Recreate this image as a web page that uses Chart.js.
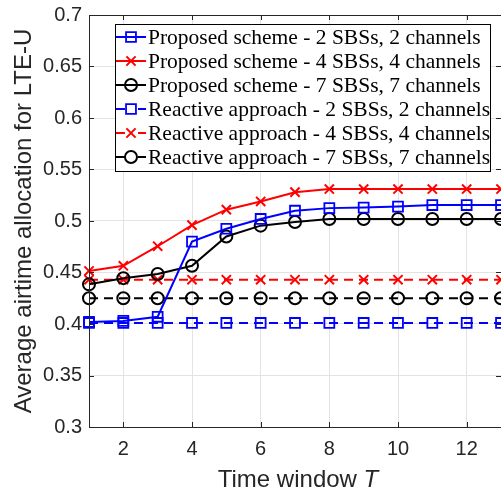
<!DOCTYPE html>
<html>
<head>
<meta charset="utf-8">
<script src="https://cdn.jsdelivr.net/npm/chart.js@4.4.0/dist/chart.umd.min.js"></script>
<style>
  html, body { margin: 0; padding: 0; background: #fff; }
</style>
</head>
<body>
<canvas id="myChart" width="501" height="492"></canvas>
<script>
// values
const timeWindow = [1, 2, 3, 4, 5, 6, 7, 8, 9, 10, 11, 12, 13];
const proposed2 = [0.402, 0.403, 0.407, 0.480, 0.4925, 0.502, 0.510, 0.5125, 0.513, 0.514, 0.5155, 0.5155, 0.5155];
const proposed4 = [0.4515, 0.4565, 0.4755, 0.496, 0.511, 0.519, 0.528, 0.531, 0.531, 0.531, 0.531, 0.531, 0.531];
const proposed7 = [0.4385, 0.4445, 0.4485, 0.4565, 0.485, 0.4955, 0.499, 0.502, 0.502, 0.502, 0.502, 0.502, 0.502];
const reactive2 = [0.401, 0.401, 0.401, 0.401, 0.401, 0.401, 0.401, 0.401, 0.401, 0.401, 0.401, 0.401, 0.401];
const reactive4 = [0.443, 0.443, 0.443, 0.443, 0.443, 0.443, 0.443, 0.443, 0.443, 0.443, 0.443, 0.443, 0.443];
const reactive7 = [0.425, 0.425, 0.425, 0.425, 0.425, 0.425, 0.425, 0.425, 0.425, 0.425, 0.425, 0.425, 0.425];
const seriesLabels = [
  'Proposed scheme - 2 SBSs, 2 channels',
  'Proposed scheme - 4 SBSs, 4 channels',
  'Proposed scheme - 7 SBSs, 7 channels',
  'Reactive approach - 2 SBSs, 2 channels',
  'Reactive approach - 4 SBSs, 4 channels',
  'Reactive approach - 7 SBSs, 7 channels'
];
const xTicks = [2, 4, 6, 8, 10, 12];
const yTicks = [0.3, 0.35, 0.4, 0.45, 0.5, 0.55, 0.6, 0.65, 0.7];

const axisColor = '#262626';
const gridColor = '#e3e3e3';
const sansFont = '"Liberation Sans", Arial, sans-serif';
const serifFont = '"Liberation Serif", "Times New Roman", serif';

function makeSet(label, values, color, marker, dashed) {
  return {
    label: label,
    data: values.map((v, i) => ({ x: timeWindow[i], y: v })),
    borderColor: color,
    borderWidth: 2,
    borderDash: dashed ? [9, 6] : [],
    pointStyle: marker,
    pointRadius: marker === 'rect' ? 7 : (marker === 'circle' ? 6 : 6.5),
    pointBorderWidth: marker === 'rect' ? 1.8 : 2,
    pointBorderColor: color,
    pointBackgroundColor: 'rgba(0,0,0,0)',
    pointHoverRadius: 0,
    tension: 0,
    fill: false,
    clip: 12
  };
}

const datasets = [
  makeSet(seriesLabels[0], proposed2, '#0000ff', 'rect', false),
  makeSet(seriesLabels[1], proposed4, '#ff0000', 'crossRot', false),
  makeSet(seriesLabels[2], proposed7, '#000000', 'circle', false),
  makeSet(seriesLabels[3], reactive2, '#0000ff', 'rect', true),
  makeSet(seriesLabels[4], reactive4, '#ff0000', 'crossRot', true),
  makeSet(seriesLabels[5], reactive7, '#000000', 'circle', true)
];

function drawMarker(ctx, style, x, y, r) {
  ctx.beginPath();
  if (style === 'rect') {
    const s = Math.SQRT1_2 * r;
    ctx.rect(x - s, y - s, 2 * s, 2 * s);
  } else if (style === 'circle') {
    ctx.arc(x, y, r, 0, Math.PI * 2);
  } else {
    const s = Math.SQRT1_2 * r;
    ctx.moveTo(x - s, y - s); ctx.lineTo(x + s, y + s);
    ctx.moveTo(x - s, y + s); ctx.lineTo(x + s, y - s);
  }
  ctx.stroke();
}

// box round the axes, inward ticks, x title with italic T
const axesBox = {
  id: 'axesBox',
  afterDatasetsDraw(chart) {
    const { ctx, chartArea: a, scales } = chart;
    ctx.save();
    ctx.strokeStyle = axisColor;
    ctx.lineWidth = 1;
    ctx.setLineDash([]);
    ctx.strokeRect(a.left + 0.5, a.top + 0.5, a.right - a.left, a.bottom - a.top);
    ctx.beginPath();
    xTicks.forEach(v => {
      const px = Math.round(scales.x.getPixelForValue(v)) + 0.5;
      ctx.moveTo(px, a.bottom); ctx.lineTo(px, a.bottom - 5);
      ctx.moveTo(px, a.top); ctx.lineTo(px, a.top + 5);
    });
    yTicks.forEach(v => {
      const py = Math.round(scales.y.getPixelForValue(v)) + 0.5;
      ctx.moveTo(a.left, py); ctx.lineTo(a.left + 5, py);
      ctx.moveTo(a.right, py); ctx.lineTo(a.right - 5, py);
    });
    ctx.stroke();

    // x axis title
    ctx.fillStyle = axisColor;
    ctx.textBaseline = 'alphabetic';
    ctx.textAlign = 'left';
    const part1 = 'Time window ';
    const part2 = 'T';
    ctx.font = '24px ' + sansFont;
    const w1 = ctx.measureText(part1).width;
    ctx.font = 'italic 24px ' + sansFont;
    const w2 = ctx.measureText(part2).width;
    const cx = (a.left + a.right) / 2 + 3;
    const startX = cx - (w1 + w2) / 2;
    ctx.font = '24px ' + sansFont;
    ctx.fillText(part1, startX, 486.5);
    ctx.font = 'italic 24px ' + sansFont;
    ctx.fillText(part2, startX + w1, 486.5);
    ctx.restore();
  }
};

const boxLegend = {
  id: 'boxLegend',
  afterDraw(chart) {
    const ctx = chart.ctx;
    const left = 115, top = 24, right = 490, bottom = 171;
    ctx.save();
    ctx.fillStyle = '#ffffff';
    ctx.fillRect(left, top, right - left, bottom - top);
    ctx.strokeStyle = '#000000';
    ctx.lineWidth = 1;
    ctx.strokeRect(left + 0.5, top + 0.5, right - left, bottom - top);
    datasets.forEach((ds, i) => {
      const y = 37 + i * 24;
      ctx.strokeStyle = ds.borderColor;
      ctx.lineWidth = 2;
      ctx.setLineDash(ds.borderDash.length ? [9, 13] : []);
      ctx.beginPath();
      ctx.moveTo(116, y); ctx.lineTo(146, y);
      ctx.stroke();
      ctx.setLineDash([]);
      ctx.lineWidth = ds.pointBorderWidth;
      drawMarker(ctx, ds.pointStyle, 131, y, ds.pointRadius);
      ctx.fillStyle = '#000000';
      ctx.font = '21.5px ' + serifFont;
      ctx.textBaseline = 'middle';
      ctx.textAlign = 'left';
      ctx.fillText(ds.label, 148, y + 1);
    });
    ctx.restore();
  }
};

const ctx = document.getElementById('myChart').getContext('2d');

const myLineChart = new Chart(ctx, {
  type: 'line',
  data: { datasets: datasets },
  options: {
    responsive: false,
    animation: false,
    devicePixelRatio: 1,
    layout: { autoPadding: false, padding: { top: 15, right: 0, left: 0, bottom: 0 } },
    plugins: {
      legend: { display: false },
      tooltip: { enabled: false }
    },
    scales: {
      x: {
        type: 'linear',
        min: 1,
        max: 13,
        afterBuildTicks: s => { s.ticks = xTicks.map(v => ({ value: v })); },
        afterFit: s => { s.height = 65; s.paddingLeft = 0; s.paddingRight = 0; },
        grid: { color: gridColor, drawTicks: false },
        border: { display: false },
        ticks: {
          padding: 10,
          color: axisColor,
          maxRotation: 0,
          autoSkip: false,
          font: { family: sansFont, size: 20 }
        }
      },
      y: {
        min: 0.3,
        max: 0.7,
        afterBuildTicks: s => { s.ticks = yTicks.map(v => ({ value: v })); },
        afterFit: s => { s.width = 89; s.paddingTop = 0; s.paddingBottom = 0; },
        grid: { color: gridColor, drawTicks: false },
        border: { display: false },
        ticks: {
          padding: 7,
          color: axisColor,
          autoSkip: false,
          font: { family: sansFont, size: 20 },
          callback: v => String(Number(v.toFixed(2)))
        },
        title: {
          display: true,
          text: 'Average airtime allocation for LTE-U',
          color: axisColor,
          font: { family: sansFont, size: 24 },
          padding: { top: 10, bottom: 0 }
        }
      }
    }
  },
  plugins: [axesBox, boxLegend]
});
</script>
</body>
</html>
